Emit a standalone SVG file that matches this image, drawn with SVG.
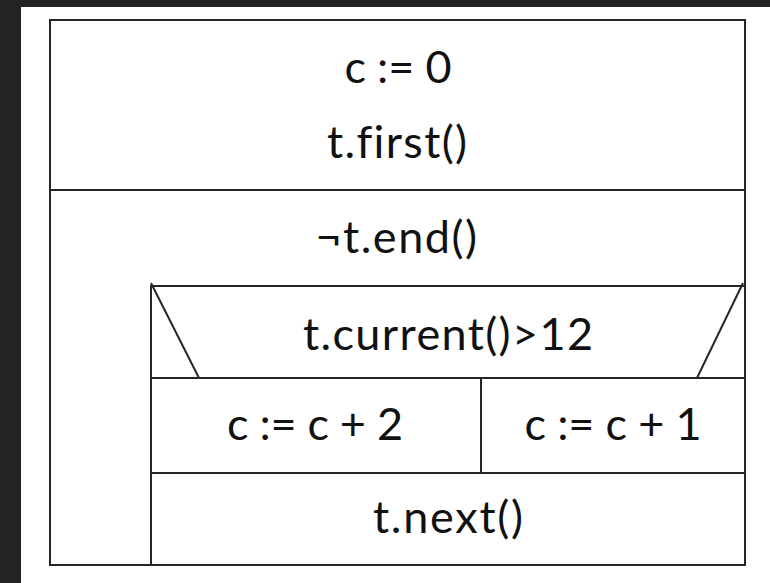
<svg xmlns="http://www.w3.org/2000/svg" width="770" height="583" viewBox="0 0 770 583">
  <style>
    .ln { stroke: #262626; stroke-width: 2; fill: none; }
    .lbl { font-family: Lato, "Open Sans", "Liberation Sans", sans-serif; font-size: 45px; fill: #111; text-anchor: middle; font-variant-ligatures: none; }
  </style>
  <!-- page backdrop -->
  <rect x="0" y="0" width="770" height="583" fill="#232323"/>
  <rect x="21" y="7" width="749" height="576" fill="#ffffff"/>

  <!-- initialisation block -->
  <g id="init">
    <rect class="ln" x="50" y="20" width="695" height="170"/>
    <text class="lbl" x="398" y="83" textLength="107">c := 0</text>
    <text class="lbl" x="397" y="158" textLength="140">t.first()</text>
  </g>

  <!-- loop header -->
  <g id="loop">
    <rect class="ln" x="50" y="190" width="695" height="375"/>
    <text class="lbl" x="397" y="253" font-size="47" letter-spacing="1.5">¬t.end()</text>
  </g>

  <!-- branch condition -->
  <g id="condition">
    <rect class="ln" x="151" y="286" width="594" height="92"/>
    <line class="ln" x1="151" y1="283" x2="199" y2="378"/>
    <line class="ln" x1="743" y1="283" x2="697" y2="378"/>
    <text class="lbl" x="448" y="350" textLength="290">t.current()&gt;12</text>
  </g>

  <!-- true branch -->
  <g id="then">
    <rect class="ln" x="151" y="378" width="330" height="95"/>
    <text class="lbl" x="315" y="440" textLength="176">c := c + 2</text>
  </g>

  <!-- false branch -->
  <g id="else">
    <rect class="ln" x="481" y="378" width="264" height="95"/>
    <text class="lbl" x="613" y="440" textLength="177">c := c + 1</text>
  </g>

  <!-- loop step -->
  <g id="step">
    <rect class="ln" x="151" y="473" width="594" height="92"/>
    <text class="lbl" x="448" y="533" textLength="150">t.next()</text>
  </g>

  <g id="connectors"></g>
</svg>
